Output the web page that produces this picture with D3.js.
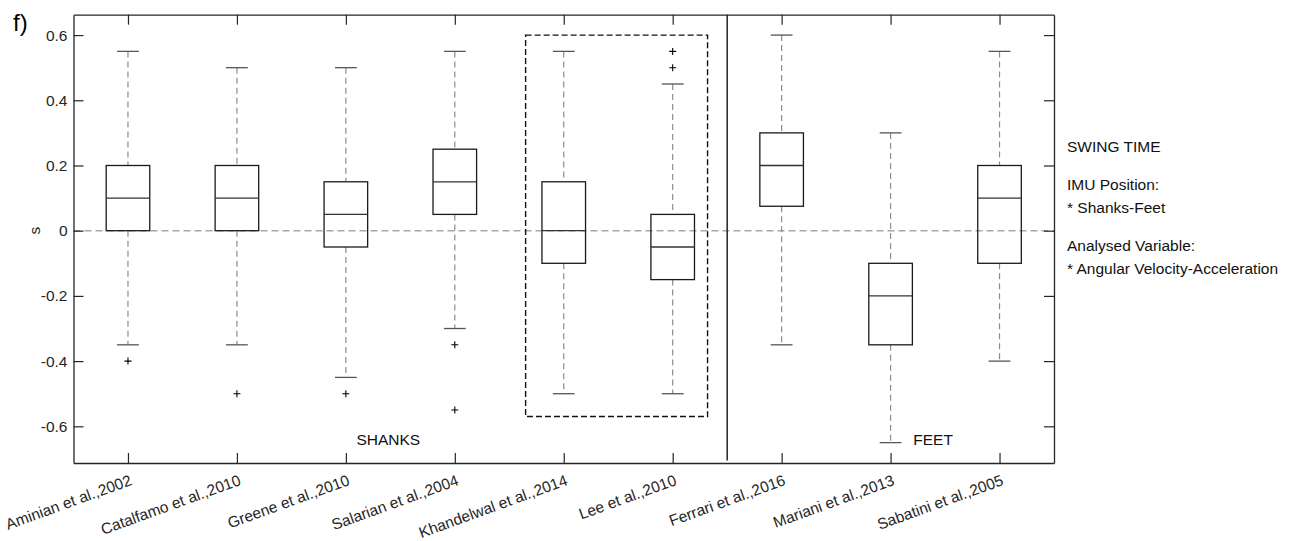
<!DOCTYPE html>
<html>
<head>
<meta charset="utf-8">
<script src="https://cdn.jsdelivr.net/npm/d3@7"></script>
<style>
  html, body { margin: 0; padding: 0; background: #fff; }
  svg { display: block; font-family: "Liberation Sans", Arial, sans-serif; }
</style>
</head>
<body>
<svg id="chart" width="1296" height="541"></svg>
<script>
// Swing time errors per study (s)
const studies = [
  "Aminian et al.,2002", "Catalfamo et al.,2010", "Greene et al.,2010",
  "Salarian et al.,2004", "Khandelwal et al.,2014", "Lee et al.,2010",
  "Ferrari et al.,2016", "Mariani et al.,2013", "Sabatini et al.,2005"
];
const whiskerLow  = [-0.35, -0.35, -0.45, -0.30, -0.50, -0.50, -0.35, -0.65, -0.40];
const q1          = [ 0.00,  0.00, -0.05,  0.05, -0.10, -0.15,  0.075, -0.35, -0.10];
const medians     = [ 0.10,  0.10,  0.05,  0.15,  0.00, -0.05,  0.20, -0.20,  0.10];
const q3          = [ 0.20,  0.20,  0.15,  0.25,  0.15,  0.05,  0.30, -0.10,  0.20];
const whiskerHigh = [ 0.55,  0.50,  0.50,  0.55,  0.55,  0.45,  0.60,  0.30,  0.55];
const outliers    = [[-0.40], [-0.50], [-0.50], [-0.35, -0.55], [], [0.50, 0.55], [], [], []];

const yTicks = [-0.6, -0.4, -0.2, 0, 0.2, 0.4, 0.6];
const groupLabels = ["SHANKS", "FEET"];
const groupLabelPos = [3.39, 8.39];
const panelTag = "f)";
const yLabel = "s";
const notes = [
  ["SWING TIME"],
  ["IMU Position:", "* Shanks-Feet"],
  ["Analysed Variable:", "* Angular Velocity-Acceleration"]
];

const svg = d3.select("#chart");
const plotL = 73.5, plotR = 1054, plotT = 14.7, plotB = 463;
const ink = "#262626";
const fs = 15.5;

const x = d3.scaleLinear().domain([0.5, 9.5]).range([plotL, plotR]);
const y = d3.scaleLinear().domain([-0.7125, 0.6625]).range([plotB, plotT]);
const idx = studies.map((_, i) => i + 1);
const fmt = v => (v === 0 ? "0" : d3.format(".1f")(v).replace("\u2212", "-"));

// zero reference line
svg.append("line")
  .attr("x1", plotL).attr("x2", plotR)
  .attr("y1", y(0)).attr("y2", y(0))
  .attr("stroke", "#a8a8a8").attr("stroke-width", 1.4)
  .attr("stroke-dasharray", "7,4");

// boxes
const boxW = 0.4, capW = 0.2;
const g = svg.append("g");
studies.forEach((s, i) => {
  const cx = x(i + 1);
  const hw = (x(boxW) - x(0)) / 2;
  const cw = (x(capW) - x(0)) / 2;
  // whiskers
  [[whiskerHigh[i], q3[i]], [q1[i], whiskerLow[i]]].forEach(([a, b]) => {
    g.append("line")
      .attr("x1", cx).attr("x2", cx)
      .attr("y1", y(a)).attr("y2", y(b))
      .attr("stroke", "#8c8c8c").attr("stroke-width", 1.2)
      .attr("stroke-dasharray", "6,4");
  });
  // caps
  [whiskerHigh[i], whiskerLow[i]].forEach(v => {
    g.append("line")
      .attr("x1", cx - cw).attr("x2", cx + cw)
      .attr("y1", y(v)).attr("y2", y(v))
      .attr("stroke", "#555").attr("stroke-width", 1.3);
  });
  // box
  g.append("rect")
    .attr("x", cx - hw).attr("width", 2 * hw)
    .attr("y", y(q3[i])).attr("height", y(q1[i]) - y(q3[i]))
    .attr("fill", "none").attr("stroke", "#1a1a1a").attr("stroke-width", 1.3);
  // median
  g.append("line")
    .attr("x1", cx - hw).attr("x2", cx + hw)
    .attr("y1", y(medians[i])).attr("y2", y(medians[i]))
    .attr("stroke", "#333").attr("stroke-width", 1.3);
  // outliers
  outliers[i].forEach(v => {
    const py = y(v);
    g.append("path")
      .attr("d", `M${cx - 3.5},${py}H${cx + 3.5}M${cx},${py - 3.5}V${py + 3.5}`)
      .attr("stroke", "#000").attr("stroke-width", 1.1);
  });
});

// highlighted group (dashed frame)
svg.append("rect")
  .attr("x", x(4.65)).attr("width", x(6.32) - x(4.65))
  .attr("y", y(0.6)).attr("height", y(-0.57) - y(0.6))
  .attr("fill", "none").attr("stroke", "#111").attr("stroke-width", 1.4)
  .attr("stroke-dasharray", "6,3");

// separator between shank and foot studies
svg.append("line")
  .attr("x1", x(6.5)).attr("x2", x(6.5))
  .attr("y1", plotT).attr("y2", y(-0.705))
  .attr("stroke", "#111").attr("stroke-width", 1.4);

// axes (inward ticks on all four sides)
function styleAxis(sel) {
  sel.selectAll("path.domain").attr("stroke", ink).attr("stroke-width", 1.3);
  sel.selectAll(".tick line").attr("stroke", ink).attr("stroke-width", 1.2);
  sel.selectAll(".tick text").attr("fill", ink).attr("font-size", fs)
    .attr("font-family", "Liberation Sans, Arial, sans-serif");
}
svg.append("g").attr("transform", `translate(${plotL},0)`)
  .call(d3.axisLeft(y).tickValues(yTicks).tickFormat(fmt).tickSize(-10).tickSizeOuter(0).tickPadding(6))
  .call(styleAxis);
svg.append("g").attr("transform", `translate(${plotR},0)`)
  .call(d3.axisRight(y).tickValues(yTicks).tickFormat("").tickSize(-10).tickSizeOuter(0))
  .call(styleAxis);
svg.append("g").attr("transform", `translate(0,${plotB})`)
  .call(d3.axisBottom(x).tickValues(idx).tickFormat("").tickSize(-10).tickSizeOuter(0))
  .call(styleAxis);
svg.append("g").attr("transform", `translate(0,${plotT})`)
  .call(d3.axisTop(x).tickValues(idx).tickFormat("").tickSize(-10).tickSizeOuter(0))
  .call(styleAxis);

// rotated category labels
svg.append("g").selectAll("text")
  .data(studies)
  .join("text")
  .attr("transform", (d, i) => `translate(${x(i + 1) + 1},${plotB + 11}) rotate(-20)`)
  .attr("text-anchor", "end")
  .attr("dy", "0.72em")
  .attr("font-size", fs)
  .attr("fill", ink)
  .text(d => d);

// group labels
svg.append("g").selectAll("text")
  .data(groupLabels)
  .join("text")
  .attr("x", (d, i) => x(groupLabelPos[i]))
  .attr("y", 445)
  .attr("text-anchor", "middle")
  .attr("font-size", fs)
  .attr("fill", "#111")
  .text(d => d);

// y label
svg.append("text")
  .attr("transform", `translate(40,${y(0)}) rotate(-90)`)
  .attr("text-anchor", "middle")
  .attr("font-size", fs)
  .attr("fill", ink)
  .text(yLabel);

// panel tag
svg.append("text")
  .attr("x", 13).attr("y", 31)
  .attr("font-size", 24)
  .attr("fill", "#000")
  .text(panelTag);

// annotation block on the right
const noteG = svg.append("g").attr("font-size", fs).attr("fill", "#111");
let ny = 152;
notes.forEach(block => {
  block.forEach(line => {
    noteG.append("text").attr("x", 1067).attr("y", ny).text(line);
    ny += 23.5;
  });
  ny += 14;
});
</script>
</body>
</html>
